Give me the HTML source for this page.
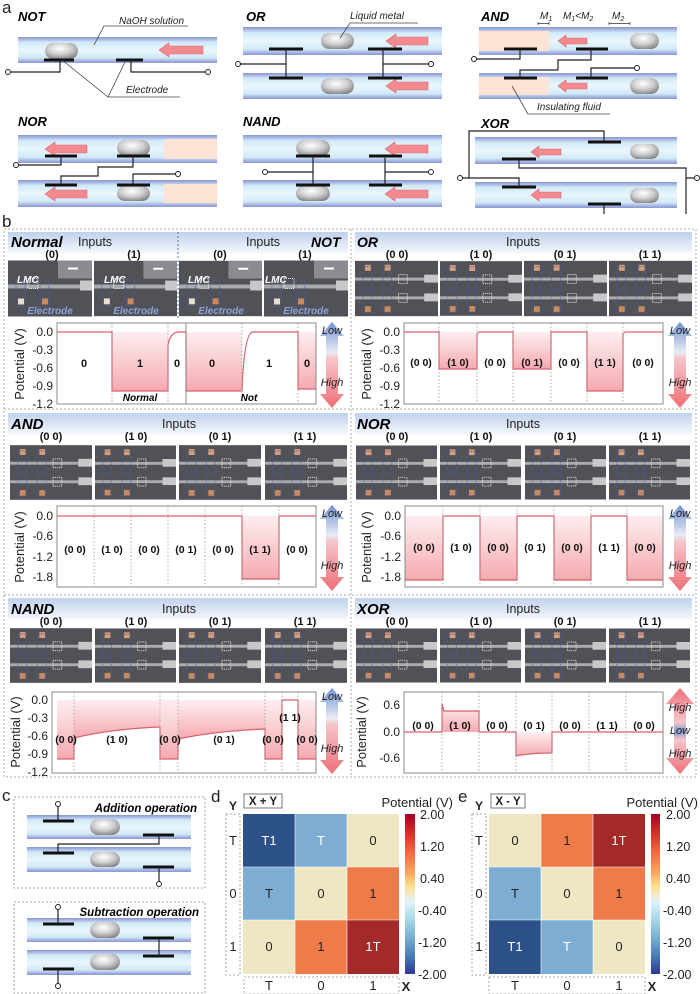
<!DOCTYPE html>
<html><head><meta charset="utf-8"><style>
html,body{margin:0;padding:0;background:#fff}
svg{display:block}
text{font-family:"Liberation Sans",sans-serif}
.bi{font-weight:bold;font-style:italic}
.it{font-style:italic}
.w{stroke:#222;stroke-width:1.2;fill:none}
.el{stroke:#111;stroke-width:3}
.ci{fill:#fff;stroke:#222;stroke-width:1}
.ar{fill:#f38a90;stroke:#dc6870;stroke-width:.6}
.dt{stroke:#9a9a9a;stroke-width:.8;stroke-dasharray:1.5,2}
.fr{fill:none;stroke:#888;stroke-width:1}
.tk{font-size:12px;fill:#222}
.sl{font-size:10.5px;font-weight:bold;fill:#111;text-anchor:middle}
.lb{font-size:11px;font-weight:bold;fill:#111;text-anchor:middle}
.dash{fill:none;stroke:#aaa;stroke-width:1;stroke-dasharray:2,2}
.ln{stroke:#d8606a;stroke-width:1.2;fill:none}
.cl{font-size:13px;fill:#222;text-anchor:middle}
</style></head><body>
<svg width="700" height="994" viewBox="0 0 700 994" xmlns="http://www.w3.org/2000/svg">
<defs>
<linearGradient id="tb" x1="0" y1="0" x2="0" y2="1">
<stop offset="0" stop-color="#8797d0"/><stop offset=".12" stop-color="#b4c2ea"/><stop offset=".2" stop-color="#d0e9f6"/><stop offset=".5" stop-color="#eaf6fc"/><stop offset=".8" stop-color="#d0e9f6"/><stop offset=".88" stop-color="#b4c2ea"/><stop offset="1" stop-color="#8797d0"/>
</linearGradient>
<radialGradient id="dr" cx=".45" cy=".35" r=".7"><stop offset="0" stop-color="#ffffff"/><stop offset=".5" stop-color="#d0d0d0"/><stop offset="1" stop-color="#808080"/></radialGradient>
<linearGradient id="hd" x1="0" y1="0" x2="0" y2="1"><stop offset="0" stop-color="#bfd1ec"/><stop offset="1" stop-color="#f7f9fd"/></linearGradient>
<linearGradient id="pk" x1="0" y1="0" x2="0" y2="1"><stop offset="0" stop-color="#fdeef0"/><stop offset="1" stop-color="#f5aab0"/></linearGradient>
<linearGradient id="av" x1="0" y1="0" x2="0" y2="1"><stop offset="0" stop-color="#6f8fd0"/><stop offset=".35" stop-color="#e8ecf6"/><stop offset=".42" stop-color="#f6c6ca"/><stop offset="1" stop-color="#ef6f78"/></linearGradient>
<linearGradient id="av2" x1="0" y1="0" x2="0" y2="1"><stop offset="0" stop-color="#ef6f78"/><stop offset=".4" stop-color="#f6c6ca"/><stop offset=".5" stop-color="#7f9ad4"/><stop offset=".6" stop-color="#f6c6ca"/><stop offset="1" stop-color="#ef6f78"/></linearGradient>
<linearGradient id="cb" x1="0" y1="0" x2="0" y2="1">
<stop offset="0" stop-color="#a50026"/><stop offset=".12" stop-color="#d73027"/><stop offset=".25" stop-color="#f46d43"/><stop offset=".38" stop-color="#fdae61"/><stop offset=".45" stop-color="#fee090"/><stop offset=".55" stop-color="#e0f3f8"/><stop offset=".65" stop-color="#abd9e9"/><stop offset=".78" stop-color="#74add1"/><stop offset=".9" stop-color="#4575b4"/><stop offset="1" stop-color="#313695"/>
</linearGradient>
<symbol id="ph" viewBox="0 0 84 56">
<rect width="84" height="56" fill="#515257"/>
<rect x="0" y="17" width="84" height="3" fill="#a9abb0"/>
<rect x="0" y="36" width="84" height="3" fill="#a9abb0"/>
<rect x="70" y="14" width="14" height="8" fill="#c8c8c8"/><rect x="70" y="33" width="14" height="8" fill="#c8c8c8"/>
<rect x="10" y="4" width="6" height="6" fill="#d8a07a"/><rect x="30" y="4" width="6" height="6" fill="#d8a07a"/>
<rect x="10" y="46" width="6" height="6" fill="#c98a5e"/><rect x="30" y="46" width="6" height="6" fill="#c98a5e"/>
<rect x="8" y="6" width="9" height="22" fill="none" stroke="#4a5a9a" stroke-dasharray="1,1"/>
<rect x="28" y="6" width="9" height="22" fill="none" stroke="#4a5a9a" stroke-dasharray="1,1"/>
<rect x="8" y="30" width="9" height="22" fill="none" stroke="#4a5a9a" stroke-dasharray="1,1"/>
<rect x="28" y="30" width="9" height="22" fill="none" stroke="#4a5a9a" stroke-dasharray="1,1"/>
<rect x="44" y="14" width="9" height="9" fill="none" stroke="#eee" stroke-dasharray="1,1"/>
<rect x="44" y="33" width="9" height="9" fill="none" stroke="#eee" stroke-dasharray="1,1"/>
</symbol>
<symbol id="ph1" viewBox="0 0 84 56">
<rect width="84" height="56" fill="#515257"/>
<rect x="0" y="24" width="84" height="4" fill="#a9abb0"/>
<rect x="50" y="0" width="34" height="18" fill="#8a8c92"/>
<rect x="60" y="7" width="10" height="2" fill="#fff"/>
<rect x="72" y="20" width="12" height="10" fill="#c8c8c8"/>
<rect x="10" y="38" width="6" height="6" fill="#e8e0d0"/><rect x="34" y="38" width="6" height="6" fill="#c98a5e"/>
<rect x="8" y="20" width="9" height="26" fill="none" stroke="#4a5a9a" stroke-dasharray="1,1"/>
<rect x="32" y="20" width="9" height="26" fill="none" stroke="#4a5a9a" stroke-dasharray="1,1"/>
<rect x="20" y="18" width="10" height="10" fill="none" stroke="#eee" stroke-dasharray="1,1"/>
</symbol>
</defs>

<!-- ===== Panel a ===== -->
<text x="2" y="13" font-size="17" fill="#222">a</text>
<text x="18" y="21" font-size="13" class="bi">NOT</text>
<rect x="18" y="37" width="199" height="26" fill="url(#tb)"/>
<rect x="45" y="43" width="33" height="16" rx="8" fill="url(#dr)"/>
<line class="el" x1="44" y1="60" x2="74" y2="60"/><line class="el" x1="116" y1="60" x2="143" y2="60"/>
<path class="w" d="M60,60 V72 H10 M131,60 V72 H206"/>
<circle class="ci" cx="8" cy="72" r="2.5"/><circle class="ci" cx="208" cy="72" r="2.5"/>
<polygon class="ar" points="159,50 169,43 169,46 203,46 203,54 169,54 169,57"/>
<text x="119" y="24" font-size="10" class="it" fill="#222">NaOH solution</text>
<path d="M94,45 L104,26 H188" stroke="#444" stroke-width=".8" fill="none"/>
<text x="126" y="93" font-size="10" class="it" fill="#222">Electrode</text>
<path d="M62,60 L108,97 H180 M108,97 L125,62" stroke="#444" stroke-width=".8" fill="none"/>

<text x="246" y="21" font-size="13" class="bi">OR</text>
<rect x="243" y="27" width="199" height="28" fill="url(#tb)"/>
<rect x="243" y="73" width="199" height="26" fill="url(#tb)"/>
<rect x="321" y="33" width="33" height="16" rx="8" fill="url(#dr)"/>
<rect x="321" y="78" width="33" height="16" rx="8" fill="url(#dr)"/>
<polygon class="ar" points="386,41 396,34 396,37 428,37 428,45 396,45 396,48"/>
<polygon class="ar" points="386,86 396,79 396,82 428,82 428,90 396,90 396,93"/>
<line class="el" x1="269" y1="49" x2="303" y2="49"/><line class="el" x1="368" y1="49" x2="402" y2="49"/>
<line class="el" x1="269" y1="78" x2="303" y2="78"/><line class="el" x1="368" y1="78" x2="402" y2="78"/>
<path class="w" d="M286,49 V78 M383,49 V78 M240,64 H286 M383,64 H429"/>
<circle class="ci" cx="238" cy="64" r="2.5"/><circle class="ci" cx="431" cy="64" r="2.5"/>
<text x="350" y="19" font-size="10" class="it" fill="#222">Liquid metal</text>
<path d="M340,38 L350,23 H418" stroke="#444" stroke-width=".8" fill="none"/>

<text x="481" y="21" font-size="13" class="bi">AND</text>
<text x="540" y="19" font-size="10" class="it" fill="#222">M<tspan font-size="7" dy="2">1</tspan></text>
<text x="563" y="19" font-size="10" class="it" fill="#222">M<tspan font-size="7" dy="2">1</tspan><tspan dy="-2">&lt;M</tspan><tspan font-size="7" dy="2">2</tspan></text>
<text x="612" y="19" font-size="10" class="it" fill="#222">M<tspan font-size="7" dy="2">2</tspan></text>
<path d="M538,22 V25 M549,22 V25 M538,23.5 H549 M609,22 V25 M630,22 V25 M609,23.5 H630" stroke="#333" stroke-width=".7" fill="none"/>
<rect x="479" y="27" width="198" height="28" fill="url(#tb)"/>
<rect x="479" y="73" width="198" height="26" fill="url(#tb)"/>
<rect x="479" y="31" width="70" height="20" fill="#fde3d3"/>
<rect x="479" y="77" width="70" height="18" fill="#fde3d3"/>
<rect x="630" y="33" width="29" height="16" rx="8" fill="url(#dr)"/>
<rect x="630" y="78" width="29" height="16" rx="8" fill="url(#dr)"/>
<polygon class="ar" points="558,41 566,35 566,38 587,38 587,44 566,44 566,47"/>
<polygon class="ar" points="558,86 566,80 566,83 587,83 587,89 566,89 566,92"/>
<line class="el" x1="504" y1="49" x2="537" y2="49"/><line class="el" x1="576" y1="49" x2="608" y2="49"/>
<line class="el" x1="504" y1="78" x2="537" y2="78"/><line class="el" x1="576" y1="78" x2="608" y2="78"/>
<path class="w" d="M520,49 V59 H476 M591,49 V60 H558 V70 H520 V78 M591,78 V68 H635"/>
<circle class="ci" cx="474" cy="59" r="2.5"/><circle class="ci" cx="637" cy="68" r="2.5"/>
<text x="537" y="110" font-size="10" class="it" fill="#222">Insulating fluid</text>
<path d="M512,86 L528,114 H610" stroke="#444" stroke-width=".8" fill="none"/>

<text x="18" y="126" font-size="13" class="bi">NOR</text>
<rect x="18" y="135" width="199" height="28" fill="url(#tb)"/>
<rect x="18" y="180" width="199" height="27" fill="url(#tb)"/>
<rect x="164" y="139" width="53" height="20" fill="#fde3d3"/>
<rect x="164" y="184" width="53" height="19" fill="#fde3d3"/>
<rect x="117" y="140" width="33" height="16" rx="8" fill="url(#dr)"/>
<rect x="117" y="186" width="33" height="15" rx="7.5" fill="url(#dr)"/>
<polygon class="ar" points="45,149 55,142 55,145 87,145 87,153 55,153 55,156"/>
<polygon class="ar" points="45,194 55,187 55,190 87,190 87,198 55,198 55,201"/>
<line class="el" x1="45" y1="156" x2="77" y2="156"/><line class="el" x1="117" y1="156" x2="150" y2="156"/>
<line class="el" x1="45" y1="185" x2="77" y2="185"/><line class="el" x1="117" y1="185" x2="150" y2="185"/>
<path class="w" d="M61,156 V165 H18 M133,156 V167 H98 V176 H61 V185 M133,185 V174 H176"/>
<circle class="ci" cx="16" cy="165" r="2.5"/><circle class="ci" cx="178" cy="174" r="2.5"/>

<text x="243" y="126" font-size="13" class="bi">NAND</text>
<rect x="243" y="135" width="199" height="28" fill="url(#tb)"/>
<rect x="243" y="180" width="199" height="27" fill="url(#tb)"/>
<rect x="296" y="140" width="34" height="16" rx="8" fill="url(#dr)"/>
<rect x="296" y="186" width="34" height="15" rx="7.5" fill="url(#dr)"/>
<polygon class="ar" points="385,149 395,142 395,145 428,145 428,153 395,153 395,156"/>
<polygon class="ar" points="385,194 395,187 395,190 428,190 428,198 395,198 395,201"/>
<line class="el" x1="296" y1="156" x2="330" y2="156"/><line class="el" x1="369" y1="156" x2="402" y2="156"/>
<line class="el" x1="296" y1="185" x2="330" y2="185"/><line class="el" x1="369" y1="185" x2="402" y2="185"/>
<path class="w" d="M313,156 V185 M385,156 V185 M267,172 H313 M385,172 H429"/>
<circle class="ci" cx="265" cy="172" r="2.5"/><circle class="ci" cx="431" cy="172" r="2.5"/>

<text x="481" y="128" font-size="13" class="bi">XOR</text>
<rect x="475" y="137" width="202" height="27" fill="url(#tb)"/>
<rect x="475" y="182" width="202" height="26" fill="url(#tb)"/>
<rect x="630" y="144" width="29" height="15" rx="7.5" fill="url(#dr)"/>
<rect x="630" y="188" width="29" height="15" rx="7.5" fill="url(#dr)"/>
<polygon class="ar" points="531,152 539,146 539,149 561,149 561,155 539,155 539,158"/>
<polygon class="ar" points="531,195 539,189 539,192 561,192 561,198 539,198 539,201"/>
<line class="el" x1="588" y1="142" x2="621" y2="142"/><line class="el" x1="502" y1="159" x2="536" y2="159"/>
<line class="el" x1="502" y1="187" x2="536" y2="187"/><line class="el" x1="588" y1="204" x2="621" y2="204"/>
<path class="w" d="M604,142 V131 H469 V178 H462 M469,178 H519 V187 M519,159 V168 H686 V214 M604,204 V214 M686,178 H695"/>
<circle class="ci" cx="460" cy="178" r="2.5"/><circle class="ci" cx="697" cy="178" r="2.5"/>

<!-- ===== Panel b ===== -->
<text x="2" y="227" font-size="17" fill="#222">b</text>
<rect class="dash" x="4" y="229" width="692" height="548"/>
<line class="dash" x1="351" y1="229" x2="351" y2="777"/>
<line class="dash" x1="4" y1="409" x2="696" y2="409"/>
<line class="dash" x1="4" y1="595" x2="696" y2="595"/>

<!-- headers -->
<rect x="8" y="232" width="340" height="22" fill="url(#hd)"/><rect x="355" y="232" width="337" height="22" fill="url(#hd)"/>
<rect x="8" y="413" width="340" height="22" fill="url(#hd)"/><rect x="355" y="413" width="337" height="22" fill="url(#hd)"/>
<rect x="8" y="598" width="340" height="22" fill="url(#hd)"/><rect x="355" y="598" width="337" height="22" fill="url(#hd)"/>
<line x1="178" y1="232" x2="178" y2="318" stroke="#3a5a9a" stroke-width=".8" stroke-dasharray="2,2"/>

<text x="11" y="247" font-size="15" class="bi">Normal</text>
<text x="78" y="246" font-size="12.5" fill="#222">Inputs</text>
<text x="246" y="246" font-size="12.5" fill="#222">Inputs</text>
<text x="311" y="247" font-size="14" class="bi">NOT</text>
<text x="52" y="258" class="lb">(0)</text><text x="134" y="258" class="lb">(1)</text><text x="220" y="258" class="lb">(0)</text><text x="305" y="258" class="lb">(1)</text>

<text x="357" y="247" font-size="14" class="bi">OR</text>
<text x="523" y="246" font-size="12.5" fill="#222" text-anchor="middle">Inputs</text>
<text x="397" y="258" class="lb">(0 0)</text><text x="481" y="258" class="lb">(1 0)</text><text x="565" y="258" class="lb">(0 1)</text><text x="650" y="258" class="lb">(1 1)</text>

<text x="11" y="429" font-size="15" class="bi">AND</text>
<text x="179" y="428" font-size="12.5" fill="#222" text-anchor="middle">Inputs</text>
<text x="51" y="440" class="lb">(0 0)</text><text x="136" y="440" class="lb">(1 0)</text><text x="220" y="440" class="lb">(0 1)</text><text x="305" y="440" class="lb">(1 1)</text>
<text x="357" y="429" font-size="15" class="bi">NOR</text>
<text x="523" y="428" font-size="12.5" fill="#222" text-anchor="middle">Inputs</text>
<text x="397" y="440" class="lb">(0 0)</text><text x="481" y="440" class="lb">(1 0)</text><text x="565" y="440" class="lb">(0 1)</text><text x="650" y="440" class="lb">(1 1)</text>

<text x="11" y="614" font-size="15" class="bi">NAND</text>
<text x="179" y="613" font-size="12.5" fill="#222" text-anchor="middle">Inputs</text>
<text x="51" y="625" class="lb">(0 0)</text><text x="136" y="625" class="lb">(1 0)</text><text x="220" y="625" class="lb">(0 1)</text><text x="305" y="625" class="lb">(1 1)</text>
<text x="357" y="614" font-size="15" class="bi">XOR</text>
<text x="523" y="613" font-size="12.5" fill="#222" text-anchor="middle">Inputs</text>
<text x="397" y="625" class="lb">(0 0)</text><text x="481" y="625" class="lb">(1 0)</text><text x="565" y="625" class="lb">(0 1)</text><text x="650" y="625" class="lb">(1 1)</text>

<!-- photos -->
<use href="#ph1" x="8" y="260" width="84" height="57" preserveAspectRatio="none"/>
<use href="#ph1" x="94" y="260" width="83" height="57" preserveAspectRatio="none"/>
<use href="#ph1" x="179" y="260" width="83" height="57" preserveAspectRatio="none"/>
<use href="#ph1" x="264" y="260" width="84" height="57" preserveAspectRatio="none"/>
<g font-size="10" class="bi" fill="#fff"><text x="17" y="283">LMC</text><text x="104" y="283">LMC</text><text x="188" y="283">LMC</text><text x="265" y="283">LMC</text></g>
<g font-size="10" class="bi" fill="#8aa3d8" text-anchor="middle"><text x="50" y="314">Electrode</text><text x="136" y="314">Electrode</text><text x="221" y="314">Electrode</text><text x="306" y="314">Electrode</text></g>
<use href="#ph" x="355" y="260" width="83" height="57" preserveAspectRatio="none"/>
<use href="#ph" x="440" y="260" width="82" height="57" preserveAspectRatio="none"/>
<use href="#ph" x="524" y="260" width="83" height="57" preserveAspectRatio="none"/>
<use href="#ph" x="609" y="260" width="83" height="57" preserveAspectRatio="none"/>

<use href="#ph" x="10" y="445" width="82" height="55" preserveAspectRatio="none"/>
<use href="#ph" x="95" y="445" width="81" height="55" preserveAspectRatio="none"/>
<use href="#ph" x="179" y="445" width="82" height="55" preserveAspectRatio="none"/>
<use href="#ph" x="265" y="445" width="82" height="55" preserveAspectRatio="none"/>
<use href="#ph" x="356" y="445" width="81" height="55" preserveAspectRatio="none"/>
<use href="#ph" x="440" y="445" width="81" height="55" preserveAspectRatio="none"/>
<use href="#ph" x="525" y="445" width="81" height="55" preserveAspectRatio="none"/>
<use href="#ph" x="609" y="445" width="81" height="55" preserveAspectRatio="none"/>

<use href="#ph" x="10" y="628" width="82" height="55" preserveAspectRatio="none"/>
<use href="#ph" x="95" y="628" width="81" height="55" preserveAspectRatio="none"/>
<use href="#ph" x="179" y="628" width="82" height="55" preserveAspectRatio="none"/>
<use href="#ph" x="265" y="628" width="82" height="55" preserveAspectRatio="none"/>
<use href="#ph" x="356" y="628" width="81" height="55" preserveAspectRatio="none"/>
<use href="#ph" x="440" y="628" width="81" height="55" preserveAspectRatio="none"/>
<use href="#ph" x="525" y="628" width="81" height="55" preserveAspectRatio="none"/>
<use href="#ph" x="609" y="628" width="81" height="55" preserveAspectRatio="none"/>

<!-- Normal / NOT chart -->
<rect x="112" y="332" width="56" height="59" fill="url(#pk)"/>
<rect x="186" y="332" width="56" height="59" fill="url(#pk)"/>
<rect x="298" y="332" width="18" height="57" fill="url(#pk)"/>
<path class="ln" d="M57,332 H112 V391 H168 V345 Q170,333 178,332 H186 V391 H242 Q244,336 252,332 H298 V389 H316"/>
<line class="dt" x1="112" y1="323" x2="112" y2="404"/><line class="dt" x1="168" y1="323" x2="168" y2="404"/>
<line x1="186" y1="323" x2="186" y2="404" stroke="#888" stroke-width="1"/>
<line class="dt" x1="242" y1="323" x2="242" y2="404"/><line class="dt" x1="298" y1="323" x2="298" y2="404"/>
<rect class="fr" x="57" y="323" width="259" height="81"/>
<g class="tk" text-anchor="end"><text x="53" y="336">0.0</text><text x="53" y="354">-0.3</text><text x="53" y="372">-0.6</text><text x="53" y="390">-0.9</text><text x="53" y="408">-1.2</text></g>
<text transform="translate(24,364) rotate(-90)" font-size="13" fill="#222" text-anchor="middle">Potential (V)</text>
<g class="lb" font-size="12"><text x="84" y="367">0</text><text x="140" y="367">1</text><text x="177" y="367">0</text><text x="212" y="367">0</text><text x="269" y="367">1</text><text x="307" y="367">0</text></g>
<text x="140" y="401" font-size="10" class="bi" text-anchor="middle">Normal</text>
<text x="249" y="401" font-size="10" class="bi" text-anchor="middle">Not</text>

<!-- OR chart -->
<rect x="439" y="332" width="38" height="37" fill="url(#pk)"/>
<rect x="513" y="332" width="38" height="37" fill="url(#pk)"/>
<rect x="587" y="332" width="36" height="59" fill="url(#pk)"/>
<path class="ln" d="M404,332 H439 V369 H477 V334 Q478,332 480,332 H513 V369 H551 V332 H587 V391 H623 V334 Q624,332 627,332 H663"/>
<g class="dt"><line x1="439" y1="323" x2="439" y2="404"/><line x1="477" y1="323" x2="477" y2="404"/><line x1="513" y1="323" x2="513" y2="404"/><line x1="551" y1="323" x2="551" y2="404"/><line x1="587" y1="323" x2="587" y2="404"/><line x1="623" y1="323" x2="623" y2="404"/></g>
<rect class="fr" x="404" y="323" width="259" height="81"/>
<g class="tk" text-anchor="end"><text x="400" y="336">0.0</text><text x="400" y="354">-0.3</text><text x="400" y="372">-0.6</text><text x="400" y="390">-0.9</text><text x="400" y="408">-1.2</text></g>
<text transform="translate(371,364) rotate(-90)" font-size="13" fill="#222" text-anchor="middle">Potential (V)</text>
<g class="sl"><text x="421" y="366">(0 0)</text><text x="458" y="366">(1 0)</text><text x="495" y="366">(0 0)</text><text x="532" y="366">(0 1)</text><text x="569" y="366">(0 0)</text><text x="605" y="366">(1 1)</text><text x="643" y="366">(0 0)</text></g>

<!-- AND chart -->
<rect x="242" y="516" width="37" height="63" fill="url(#pk)"/>
<path class="ln" d="M57,516 H242 V579 H279 V516 H316"/>
<g class="dt"><line x1="94" y1="506" x2="94" y2="587"/><line x1="131" y1="506" x2="131" y2="587"/><line x1="168" y1="506" x2="168" y2="587"/><line x1="205" y1="506" x2="205" y2="587"/><line x1="242" y1="506" x2="242" y2="587"/><line x1="279" y1="506" x2="279" y2="587"/></g>
<rect class="fr" x="57" y="506" width="259" height="81"/>
<g class="tk" text-anchor="end"><text x="53" y="520">0.0</text><text x="53" y="540">-0.6</text><text x="53" y="561">-1.2</text><text x="53" y="581">-1.8</text></g>
<text transform="translate(24,547) rotate(-90)" font-size="13" fill="#222" text-anchor="middle">Potential (V)</text>
<g class="sl"><text x="75" y="553">(0 0)</text><text x="112" y="553">(1 0)</text><text x="149" y="553">(0 0)</text><text x="186" y="553">(0 1)</text><text x="223" y="553">(0 0)</text><text x="260" y="553">(1 1)</text><text x="297" y="553">(0 0)</text></g>

<!-- NOR chart -->
<rect x="405" y="516" width="38" height="64" fill="url(#pk)"/>
<rect x="480" y="516" width="37" height="64" fill="url(#pk)"/>
<rect x="554" y="516" width="37" height="64" fill="url(#pk)"/>
<rect x="627" y="516" width="36" height="64" fill="url(#pk)"/>
<path class="ln" d="M405,580 H443 V516 H480 V580 H517 V516 H554 V580 H591 V516 H627 V580 H663"/>
<g class="dt"><line x1="443" y1="506" x2="443" y2="587"/><line x1="480" y1="506" x2="480" y2="587"/><line x1="517" y1="506" x2="517" y2="587"/><line x1="554" y1="506" x2="554" y2="587"/><line x1="591" y1="506" x2="591" y2="587"/><line x1="627" y1="506" x2="627" y2="587"/></g>
<rect class="fr" x="405" y="506" width="258" height="81"/>
<g class="tk" text-anchor="end"><text x="401" y="520">0.0</text><text x="401" y="540">-0.6</text><text x="401" y="561">-1.2</text><text x="401" y="581">-1.8</text></g>
<text transform="translate(371,547) rotate(-90)" font-size="13" fill="#222" text-anchor="middle">Potential (V)</text>
<g class="sl"><text x="424" y="551">(0 0)</text><text x="461" y="551">(1 0)</text><text x="498" y="551">(0 0)</text><text x="535" y="551">(0 1)</text><text x="572" y="551">(0 0)</text><text x="609" y="551">(1 1)</text><text x="645" y="551">(0 0)</text></g>

<!-- NAND chart -->
<rect x="57" y="700" width="17" height="59" fill="url(#pk)"/>
<path d="M74,700 V738 Q110,729 160,727 V700 Z" fill="url(#pk)"/>
<rect x="160" y="700" width="18" height="59" fill="url(#pk)"/>
<path d="M178,700 V739 Q215,731 265,729 V700 Z" fill="url(#pk)"/>
<rect x="265" y="700" width="17" height="59" fill="url(#pk)"/>
<rect x="298" y="700" width="18" height="59" fill="url(#pk)"/>
<path class="ln" d="M57,759 H74 V738 Q110,729 160,727 V759 H178 V739 Q215,731 265,729 V759 H282 V700 H298 V759 H316"/>
<g class="dt"><line x1="74" y1="692" x2="74" y2="773"/><line x1="160" y1="692" x2="160" y2="773"/><line x1="178" y1="692" x2="178" y2="773"/><line x1="265" y1="692" x2="265" y2="773"/><line x1="282" y1="692" x2="282" y2="773"/><line x1="298" y1="692" x2="298" y2="773"/></g>
<rect class="fr" x="52" y="692" width="264" height="81"/>
<g class="tk" text-anchor="end"><text x="48" y="704">0.0</text><text x="48" y="722">-0.3</text><text x="48" y="740">-0.6</text><text x="48" y="758">-0.9</text><text x="48" y="776">-1.2</text></g>
<text transform="translate(20,732) rotate(-90)" font-size="13" fill="#222" text-anchor="middle">Potential (V)</text>
<g class="sl"><text x="66" y="743">(0 0)</text><text x="117" y="743">(1 0)</text><text x="170" y="743">(0 0)</text><text x="224" y="743">(0 1)</text><text x="273" y="743">(0 0)</text><text x="290" y="721">(1 1)</text><text x="307" y="743">(0 0)</text></g>

<!-- XOR chart -->
<path d="M442,732 V704 L444,711 H479 V732 Z" fill="url(#pk)"/>
<path d="M516,732 V756 Q530,753 552,753 V732 Z" fill="url(#pk)"/>
<path class="ln" d="M404,732 H442 V704 L444,711 H479 V732 H516 V756 Q530,753 552,753 V732 H663"/>
<g class="dt"><line x1="442" y1="692" x2="442" y2="773"/><line x1="479" y1="692" x2="479" y2="773"/><line x1="516" y1="692" x2="516" y2="773"/><line x1="552" y1="692" x2="552" y2="773"/><line x1="589" y1="692" x2="589" y2="773"/><line x1="626" y1="692" x2="626" y2="773"/></g>
<rect class="fr" x="404" y="692" width="259" height="81"/>
<g class="tk" text-anchor="end"><text x="400" y="709">0.6</text><text x="400" y="736">0.0</text><text x="400" y="762">-0.6</text></g>
<text transform="translate(366,732) rotate(-90)" font-size="13" fill="#222" text-anchor="middle">Potential (V)</text>
<g class="sl"><text x="423" y="729">(0 0)</text><text x="460" y="729">(1 0)</text><text x="497" y="729">(0 0)</text><text x="534" y="729">(0 1)</text><text x="570" y="729">(0 0)</text><text x="607" y="729">(1 1)</text><text x="644" y="729">(0 0)</text></g>

<!-- gradient arrows -->
<g fill="url(#av)">
<polygon points="332,322 344,336 338,336 338,394 344,394 332,408 320,394 326,394 326,336 320,336"/>
<polygon points="680,322 692,336 686,336 686,394 692,394 680,408 668,394 674,394 674,336 668,336"/>
<polygon points="332,505 344,519 338,519 338,577 344,577 332,591 320,577 326,577 326,519 320,519"/>
<polygon points="680,505 692,519 686,519 686,577 692,577 680,591 668,577 674,577 674,519 668,519"/>
<polygon points="332,688 344,702 338,702 338,760 344,760 332,774 320,760 326,760 326,702 320,702"/>
</g>
<polygon fill="url(#av2)" points="680,688 694,704 686,704 686,758 694,758 680,774 666,758 674,758 674,704 666,704"/>
<g font-size="11" class="it" fill="#222" text-anchor="middle">
<text x="332" y="334">Low</text><text x="332" y="386">High</text>
<text x="680" y="334">Low</text><text x="680" y="386">High</text>
<text x="332" y="517">Low</text><text x="332" y="569">High</text>
<text x="680" y="517">Low</text><text x="680" y="569">High</text>
<text x="332" y="700">Low</text><text x="332" y="752">High</text>
<text x="680" y="711">High</text><text x="680" y="734">Low</text><text x="680" y="757">High</text>
</g>

<!-- ===== Panel c ===== -->
<text x="2" y="801" font-size="17" fill="#222">c</text>
<rect class="dash" x="14" y="797" width="191" height="91"/>
<rect class="dash" x="14" y="902" width="191" height="91"/>
<text x="197" y="812" font-size="11.5" class="bi" text-anchor="end">Addition operation</text>
<rect x="27" y="815" width="164" height="24" fill="url(#tb)"/>
<rect x="27" y="847" width="164" height="25" fill="url(#tb)"/>
<rect x="90" y="819" width="30" height="16" rx="8" fill="url(#dr)"/>
<rect x="90" y="852" width="30" height="15" rx="7.5" fill="url(#dr)"/>
<line class="el" x1="43" y1="821" x2="74" y2="821"/><line class="el" x1="143" y1="835" x2="174" y2="835"/>
<line class="el" x1="43" y1="853" x2="74" y2="853"/><line class="el" x1="143" y1="867" x2="174" y2="867"/>
<path class="w" d="M58,821 V806 M159,835 V844 H58 V853 M159,867 V882"/>
<circle class="ci" cx="58" cy="804" r="2.5"/><circle class="ci" cx="159" cy="884" r="2.5"/>

<text x="199" y="916" font-size="11.5" class="bi" text-anchor="end">Subtraction operation</text>
<rect x="27" y="918" width="164" height="24" fill="url(#tb)"/>
<rect x="27" y="950" width="164" height="25" fill="url(#tb)"/>
<rect x="90" y="922" width="30" height="16" rx="8" fill="url(#dr)"/>
<rect x="90" y="954" width="30" height="16" rx="8" fill="url(#dr)"/>
<line class="el" x1="43" y1="924" x2="74" y2="924"/><line class="el" x1="143" y1="938" x2="174" y2="938"/>
<line class="el" x1="143" y1="956" x2="174" y2="956"/><line class="el" x1="43" y1="969" x2="74" y2="969"/>
<path class="w" d="M58,924 V909 M159,938 V956 M58,969 V984"/>
<circle class="ci" cx="58" cy="907" r="2.5"/><circle class="ci" cx="58" cy="986" r="2.5"/>

<!-- ===== Panel d ===== -->
<text x="211" y="802" font-size="17" fill="#222">d</text>
<text x="233" y="810" font-size="12" font-weight="bold" fill="#222" text-anchor="middle">Y</text>
<rect x="244" y="794" width="38" height="14" fill="#fff" stroke="#777" stroke-width="1"/>
<text x="263" y="805" font-size="11.5" font-weight="bold" fill="#222" text-anchor="middle">X + Y</text>
<text x="453" y="807" font-size="13" fill="#222" text-anchor="end">Potential (V)</text>
<rect class="dash" x="226" y="814" width="14" height="161"/>
<rect class="dash" x="244" y="977" width="155" height="17"/>
<rect x="243" y="814" width="52" height="53" fill="#2c5088"/><rect x="295" y="814" width="52" height="53" fill="#7eadd4"/><rect x="347" y="814" width="52" height="53" fill="#efe7c3"/>
<rect x="243" y="867" width="52" height="53" fill="#7eadd4"/><rect x="295" y="867" width="52" height="53" fill="#efe7c3"/><rect x="347" y="867" width="52" height="53" fill="#ef7b4a"/>
<rect x="243" y="920" width="52" height="54" fill="#efe7c3"/><rect x="295" y="920" width="52" height="54" fill="#ef7b4a"/><rect x="347" y="920" width="52" height="54" fill="#a42a2a"/>
<g stroke="#fff" stroke-width=".6"><line x1="295" y1="814" x2="295" y2="974"/><line x1="347" y1="814" x2="347" y2="974"/><line x1="243" y1="867" x2="399" y2="867"/><line x1="243" y1="920" x2="399" y2="920"/></g>
<g class="cl"><text x="269" y="845" fill="#fff">T1</text><text x="321" y="845" fill="#fff">T</text><text x="373" y="845">0</text>
<text x="269" y="898">T</text><text x="321" y="898">0</text><text x="373" y="898">1</text>
<text x="269" y="951">0</text><text x="321" y="951">1</text><text x="373" y="951" fill="#fff">1T</text></g>
<g class="cl"><text x="233" y="845">T</text><text x="233" y="898">0</text><text x="233" y="951">1</text>
<text x="269" y="990">T</text><text x="321" y="990">0</text><text x="373" y="990">1</text></g>
<text x="406" y="991" font-size="13" font-weight="bold" fill="#222" text-anchor="middle">X</text>
<rect x="405" y="814" width="10" height="160" fill="url(#cb)"/>
<g font-size="12.5" fill="#222"><text x="420" y="819">2.00</text><text x="420" y="851">1.20</text><text x="420" y="883">0.40</text><text x="418" y="915">-0.40</text><text x="418" y="947">-1.20</text><text x="418" y="979">-2.00</text></g>

<!-- ===== Panel e ===== -->
<text x="458" y="802" font-size="17" fill="#222">e</text>
<text x="479" y="810" font-size="12" font-weight="bold" fill="#222" text-anchor="middle">Y</text>
<rect x="491" y="794" width="34" height="14" fill="#fff" stroke="#777" stroke-width="1"/>
<text x="508" y="805" font-size="11.5" font-weight="bold" fill="#222" text-anchor="middle">X - Y</text>
<text x="698" y="807" font-size="13" fill="#222" text-anchor="end">Potential (V)</text>
<rect class="dash" x="472" y="814" width="14" height="161"/>
<rect class="dash" x="489" y="977" width="156" height="17"/>
<rect x="489" y="814" width="52" height="53" fill="#efe7c3"/><rect x="541" y="814" width="52" height="53" fill="#ef7b4a"/><rect x="593" y="814" width="52" height="53" fill="#a42a2a"/>
<rect x="489" y="867" width="52" height="53" fill="#7eadd4"/><rect x="541" y="867" width="52" height="53" fill="#efe7c3"/><rect x="593" y="867" width="52" height="53" fill="#ef7b4a"/>
<rect x="489" y="920" width="52" height="54" fill="#2c5088"/><rect x="541" y="920" width="52" height="54" fill="#7eadd4"/><rect x="593" y="920" width="52" height="54" fill="#efe7c3"/>
<g stroke="#fff" stroke-width=".6"><line x1="541" y1="814" x2="541" y2="974"/><line x1="593" y1="814" x2="593" y2="974"/><line x1="489" y1="867" x2="645" y2="867"/><line x1="489" y1="920" x2="645" y2="920"/></g>
<g class="cl"><text x="515" y="845">0</text><text x="567" y="845">1</text><text x="619" y="845" fill="#fff">1T</text>
<text x="515" y="898">T</text><text x="567" y="898">0</text><text x="619" y="898">1</text>
<text x="515" y="951" fill="#fff">T1</text><text x="567" y="951" fill="#fff">T</text><text x="619" y="951">0</text></g>
<g class="cl"><text x="479" y="845">T</text><text x="479" y="898">0</text><text x="479" y="951">1</text>
<text x="515" y="990">T</text><text x="567" y="990">0</text><text x="619" y="990">1</text></g>
<text x="652" y="991" font-size="13" font-weight="bold" fill="#222" text-anchor="middle">X</text>
<rect x="651" y="814" width="9" height="160" fill="url(#cb)"/>
<g font-size="12.5" fill="#222"><text x="666" y="819">2.00</text><text x="666" y="851">1.20</text><text x="666" y="883">0.40</text><text x="663" y="915">-0.40</text><text x="663" y="947">-1.20</text><text x="663" y="979">-2.00</text></g>
</svg>
</body></html>
